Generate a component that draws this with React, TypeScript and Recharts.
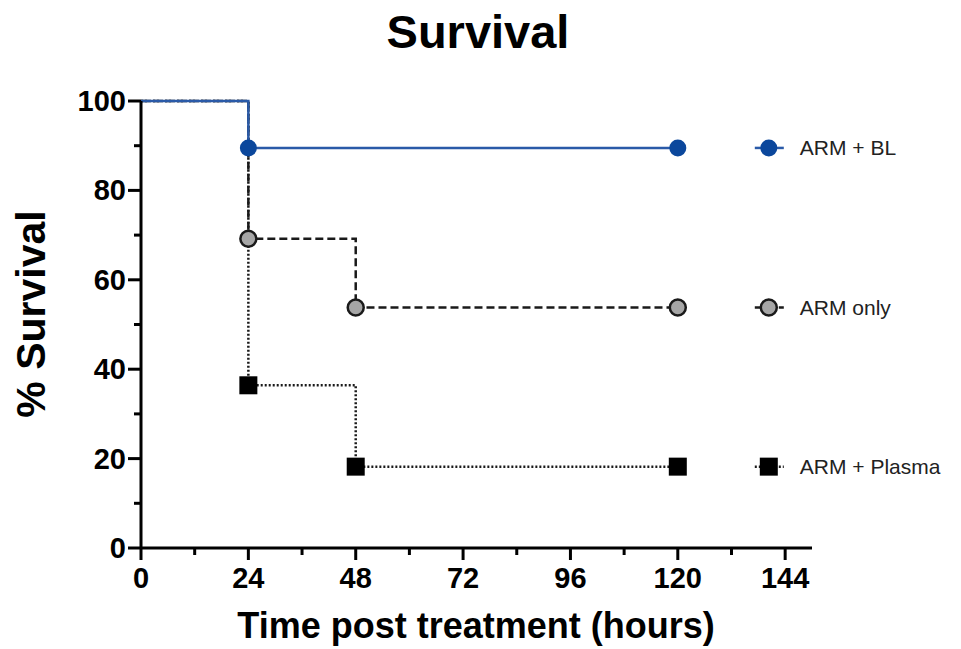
import React from 'react';
import { LineChart, Line, XAxis, YAxis, LabelList } from 'recharts';

const FONT = '"Liberation Sans", Arial, Helvetica, sans-serif';

// axis ticks (minor every 12 h / 10 %, labels on the majors)
const xTicks = [0, 12, 24, 36, 48, 60, 72, 84, 96, 108, 120, 132, 144];
const yTicks = [0, 10, 20, 30, 40, 50, 60, 70, 80, 90, 100];

// survival curves
const blHours = [0, 24, 120];
const blSurvival = [100, 89.5, 89.5];
const armHours = [0, 24, 48, 120];
const armSurvival = [100, 69.2, 53.8, 53.8];
const plasmaHours = [0, 24, 48, 120];
const plasmaSurvival = [100, 36.4, 18.2, 18.2];

const toPoints = (hours: number[], values: number[]) =>
  hours.map((t, i) => ({ t, v: values[i] }));

type Marker = 'dot' | 'ring' | 'square';

interface Series {
  name: string;
  data: Array<{ t: number; v: number }>;
  stroke: string;
  dash?: string;
  width: number;
  marker: Marker;
  fill: string;
}

// drawn bottom to top so the blue curve sits over the others
const SERIES: Series[] = [
  {
    name: 'ARM + Plasma',
    data: toPoints(plasmaHours, plasmaSurvival),
    stroke: '#1a1a1a',
    dash: '2 2',
    width: 2.5,
    marker: 'square',
    fill: '#000000',
  },
  {
    name: 'ARM only',
    data: toPoints(armHours, armSurvival),
    stroke: '#1a1a1a',
    dash: '8 4',
    width: 2.5,
    marker: 'ring',
    fill: '#a6a6a6',
  },
  {
    name: 'ARM + BL',
    data: toPoints(blHours, blSurvival),
    stroke: '#2a5aa8',
    width: 2.5,
    marker: 'dot',
    fill: '#0b479c',
  },
];

function drawMarker(kind: Marker, x: number, y: number, fill: string) {
  if (kind === 'square') {
    return <rect x={x - 9} y={y - 9} width={18} height={18} fill={fill} />;
  }
  if (kind === 'ring') {
    return <circle cx={x} cy={y} r={8} fill={fill} stroke="#1a1a1a" strokeWidth={2.5} />;
  }
  return <circle cx={x} cy={y} r={8.5} fill={fill} />;
}

const makeDot = (s: Series) => (props: any) => {
  const { cx, cy, payload, index } = props;
  if (payload.t === 0) return <g key={`d-${index}`} />;
  return <g key={`d-${index}`}>{drawMarker(s.marker, cx, cy, s.fill)}</g>;
};

// legend entry lines up with the last point of its curve
const makeLegend = (s: Series) => (props: any) => {
  const last = s.data.length - 1;
  if (props.index !== last) return null;
  const vb = props.viewBox || {};
  const x = props.x ?? vb.x;
  const y = props.y ?? vb.y;
  const mx = x + 91;
  return (
    <g>
      <line
        x1={mx - 14}
        x2={mx + 15}
        y1={y}
        y2={y}
        stroke={s.stroke}
        strokeWidth={s.width}
        strokeDasharray={s.dash}
      />
      {drawMarker(s.marker, mx, y, s.fill)}
      <text
        x={mx + 31}
        y={y}
        dy={7}
        fontFamily={FONT}
        fontSize={21}
        fill="#222"
      >
        {s.name}
      </text>
    </g>
  );
};

function XTick(props: any) {
  const { x, y, payload } = props;
  const major = payload.value % 24 === 0;
  return (
    <g>
      <line x1={x} x2={x} y1={y} y2={y + (major ? 12 : 7)} stroke="#000" strokeWidth={3} />
      {major && (
        <text
          x={x}
          y={y + 40}
          textAnchor="middle"
          fontFamily={FONT}
          fontWeight="bold"
          fontSize={29}
          fill="#000"
        >
          {payload.value}
        </text>
      )}
    </g>
  );
}

function YTick(props: any) {
  const { x, y, payload } = props;
  const major = payload.value % 20 === 0;
  return (
    <g>
      <line x1={x - (major ? 13 : 7)} x2={x} y1={y} y2={y} stroke="#000" strokeWidth={3} />
      {major && (
        <text
          x={x - 15}
          y={y}
          dy={10}
          textAnchor="end"
          fontFamily={FONT}
          fontWeight="bold"
          fontSize={29}
          fill="#000"
        >
          {payload.value}
        </text>
      )}
    </g>
  );
}

export default function App() {
  return (
    <div style={{ position: 'absolute', left: 0, top: 0, width: 961, height: 649, background: '#fff' }}>
      <LineChart
        width={961}
        height={649}
        margin={{ top: 101, right: 149, bottom: 71, left: 81 }}
      >
        <XAxis
          type="number"
          dataKey="t"
          domain={[0, 150]}
          ticks={xTicks}
          interval={0}
          height={30}
          tickSize={0}
          tickMargin={0}
          tickLine={false}
          tick={<XTick />}
          axisLine={{ stroke: '#000', strokeWidth: 3 }}
          allowDuplicatedCategory={false}
        />
        <YAxis
          type="number"
          dataKey="v"
          domain={[0, 100]}
          ticks={yTicks}
          interval={0}
          width={60}
          tickSize={0}
          tickMargin={0}
          tickLine={false}
          tick={<YTick />}
          axisLine={{ stroke: '#000', strokeWidth: 3 }}
        />
        {SERIES.map((s) => (
          <Line
            key={s.name}
            name={s.name}
            data={s.data}
            dataKey="v"
            type="stepAfter"
            stroke={s.stroke}
            strokeWidth={s.width}
            strokeDasharray={s.dash}
            dot={makeDot(s)}
            activeDot={false}
            isAnimationActive={false}
          >
            <LabelList dataKey="v" content={makeLegend(s)} />
          </Line>
        ))}
      </LineChart>
      <svg
        width={961}
        height={649}
        style={{ position: 'absolute', left: 0, top: 0, pointerEvents: 'none' }}
      >
        <text x={478} y={48} textAnchor="middle" fontFamily={FONT} fontWeight="bold" fontSize={47} fill="#000">
          Survival
        </text>
        <text x={476} y={638} textAnchor="middle" fontFamily={FONT} fontWeight="bold" fontSize={36} fill="#000">
          Time post treatment (hours)
        </text>
        <text
          transform="translate(45, 314) rotate(-90)"
          textAnchor="middle"
          fontFamily={FONT}
          fontWeight="bold"
          fontSize={41}
          fill="#000"
        >
          % Survival
        </text>
      </svg>
    </div>
  );
}
